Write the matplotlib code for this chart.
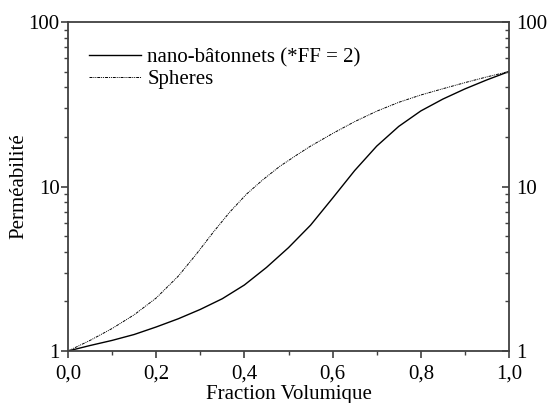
import matplotlib
matplotlib.use("Agg")
import matplotlib.pyplot as plt

plt.rcParams['font.family'] = ['Liberation Serif', 'DejaVu Serif']

# values (fraction volumique -> permeabilite)
frac_rods = [0.0, 0.05, 0.1, 0.15, 0.2, 0.25, 0.3, 0.35, 0.4, 0.45, 0.5,
             0.55, 0.6, 0.65, 0.7, 0.75, 0.8, 0.85, 0.9, 0.95, 1.0]
perm_rods = [1.0, 1.08, 1.16, 1.26, 1.40, 1.57, 1.79, 2.08, 2.52, 3.22, 4.25,
             5.82, 8.5, 12.5, 17.6, 23.2, 28.8, 34.0, 39.2, 44.5, 50.0]

frac_spheres = [0.0, 0.05, 0.1, 0.15, 0.2, 0.25, 0.29, 0.33, 0.367, 0.405,
                0.442, 0.48, 0.518, 0.55, 0.6, 0.65, 0.7, 0.75, 0.8, 0.85,
                0.9, 0.95, 1.0]
perm_spheres = [1.0, 1.16, 1.37, 1.66, 2.1, 2.85, 3.85, 5.3, 7.0, 9.0,
                11.0, 13.25, 15.5, 17.6, 21.0, 24.8, 28.7, 32.5, 36.0, 39.3,
                42.8, 46.4, 50.0]

label_rods = 'nano-bâtonnets (*FF = 2)'
label_spheres = 'Spheres'

xticks = [0.0, 0.2, 0.4, 0.6, 0.8, 1.0]
xtick_labels = ['0,0', '0,2', '0,4', '0,6', '0,8', '1,0']
yticks = [1, 10, 100]
ytick_labels = ['1', '10', '100']

spine_color = '#404040'
fs = 15

fig = plt.figure(figsize=(5.5, 4.03), dpi=100)
ax = fig.add_axes([0.1236, 0.129, 0.8019, 0.8164])

ax.plot(frac_rods, perm_rods, color='black', lw=1.0, label=label_rods)
ax.plot(frac_spheres, perm_spheres, color='black', lw=0.7,
        linestyle=(0, (3, 1, 1, 1, 1, 1)), label=label_spheres)

ax.set_yscale('log')
ax.set_xlim(0, 1)
ax.set_ylim(1, 100)

ax.set_xticks(xticks, labels=xtick_labels)
ax.set_xticks([0.1, 0.3, 0.5, 0.7, 0.9], minor=True)
ax.set_yticks(yticks, labels=ytick_labels)

for s in ax.spines.values():
    s.set_color(spine_color)
    s.set_linewidth(1.3)

ax.tick_params(axis='both', which='major', direction='out', length=5,
               width=1.2, color=spine_color, labelsize=fs, pad=1)
ax.tick_params(axis='x', which='major', pad=5)
ax.tick_params(axis='both', which='minor', direction='out', length=3,
               width=1.0, color=spine_color)
ax.tick_params(axis='y', which='minor', labelleft=False)

# right hand axis, ticks pointing inwards
ax2 = ax.twinx()
ax2.set_yscale('log')
ax2.set_ylim(1, 100)
ax2.set_yticks(yticks, labels=ytick_labels)
ax2.tick_params(axis='y', which='major', direction='in', length=5,
                width=1.2, color=spine_color, labelsize=fs, pad=5)
ax2.tick_params(axis='y', which='minor', direction='in', length=3,
                width=1.0, color=spine_color, labelright=False)
for s in ax2.spines.values():
    s.set_visible(False)

ax.set_xlabel('Fraction Volumique', fontsize=fs, labelpad=1)
ax.set_ylabel('Perméabilité', fontsize=fs, labelpad=0)

ax.legend(loc='upper left', frameon=False, fontsize=fs, handlelength=2.5,
          handletextpad=0.3, labelspacing=0.1, borderaxespad=0.6,
          bbox_to_anchor=(0.0, 0.985))

fig.savefig('out.png', dpi=100)
